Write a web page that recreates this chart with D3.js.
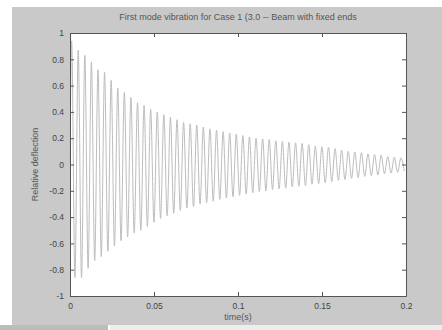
<!DOCTYPE html>
<html>
<head>
<meta charset="utf-8">
<script src="https://cdn.jsdelivr.net/npm/d3@7"></script>
<style>
  body { margin: 0; background: #fff; }
  svg text { font-family: "Liberation Sans", Arial, sans-serif; }
</style>
</head>
<body>
<svg id="chart" width="442" height="330"></svg>
<script>
// title and axis labels
const titleText = "First mode vibration for Case 1 (3.0 -- Beam with fixed ends";
const xLabel = "time(s)";
const yLabel = "Relative deflection";

// tick values
const xTicks = [0, 0.05, 0.1, 0.15, 0.2];
const yTicks = [-1, -0.8, -0.6, -0.4, -0.2, 0, 0.2, 0.4, 0.6, 0.8, 1];

// peaks of the oscillation (one per cycle)
const posPeaks = [0.94, 0.87, 0.83, 0.78, 0.72, 0.70, 0.64, 0.58, 0.55, 0.51,
  0.47, 0.45, 0.42, 0.40, 0.38, 0.36, 0.34, 0.32, 0.31, 0.30,
  0.285, 0.27, 0.26, 0.25, 0.24, 0.23, 0.22, 0.21, 0.20, 0.195,
  0.19, 0.18, 0.175, 0.17, 0.165, 0.16, 0.15, 0.14, 0.135, 0.13,
  0.12, 0.11, 0.10, 0.095, 0.09, 0.08, 0.075, 0.07, 0.06, 0.055, 0.05];
const negPeaks = [-0.86, -0.86, -0.79, -0.73, -0.70, -0.66, -0.62, -0.58, -0.55, -0.52,
  -0.50, -0.47, -0.44, -0.41, -0.39, -0.37, -0.35, -0.33, -0.32, -0.30,
  -0.29, -0.28, -0.265, -0.255, -0.245, -0.235, -0.225, -0.215, -0.205, -0.20,
  -0.19, -0.185, -0.18, -0.17, -0.165, -0.16, -0.15, -0.145, -0.14, -0.13,
  -0.12, -0.115, -0.105, -0.10, -0.09, -0.085, -0.08, -0.07, -0.065, -0.06, -0.05];
const halfPeriod = 0.00196; // time between a peak and the next trough

const svg = d3.select("#chart");

// figure background (grey window)
svg.append("rect").attr("x", 12).attr("y", 7).attr("width", 430).attr("height", 318).attr("fill", "#c9c9c9");
// bits of the screenshot at the bottom
svg.append("rect").attr("x", 0).attr("y", 325).attr("width", 108).attr("height", 5).attr("fill", "#bcbcbc");
svg.append("rect").attr("x", 110).attr("y", 325).attr("width", 332).attr("height", 5).attr("fill", "#ededed");

const plot = { left: 70, top: 33, right: 406, bottom: 296 };

const x = d3.scaleLinear().domain([0, 0.2]).range([plot.left, plot.right]);
const y = d3.scaleLinear().domain([-1, 1]).range([plot.bottom, plot.top]);

svg.append("rect")
  .attr("x", plot.left).attr("y", plot.top)
  .attr("width", plot.right - plot.left).attr("height", plot.bottom - plot.top)
  .attr("fill", "#fff");

// build the signal from the peaks
const signal = [{ t: 0, v: 0 }];
const n = Math.min(posPeaks.length, negPeaks.length);
for (let i = 0; i < n; i++) {
  signal.push({ t: (2 * i + 0.5) * halfPeriod, v: posPeaks[i] });
  signal.push({ t: (2 * i + 1.5) * halfPeriod, v: negPeaks[i] });
}

const line = d3.line()
  .x(d => x(d.t))
  .y(d => y(d.v))
  .curve(d3.curveMonotoneX);

svg.append("path")
  .datum(signal.filter(d => d.t <= 0.2))
  .attr("d", line)
  .attr("fill", "none")
  .attr("stroke", "#bdbdbd")
  .attr("stroke-width", 1);

// axes, MATLAB-ish box with inward ticks
const axisColor = "#555";
const tick = 4;
const fmt = d => String(d);

const xb = svg.append("g").attr("transform", `translate(0,${plot.bottom})`)
  .call(d3.axisBottom(x).tickValues(xTicks).tickSizeInner(-tick).tickSizeOuter(0).tickPadding(7).tickFormat(fmt));
const xt = svg.append("g").attr("transform", `translate(0,${plot.top})`)
  .call(d3.axisTop(x).tickValues(xTicks).tickSizeInner(-tick).tickSizeOuter(0).tickFormat(""));
const yl = svg.append("g").attr("transform", `translate(${plot.left},0)`)
  .call(d3.axisLeft(y).tickValues(yTicks).tickSizeInner(-tick).tickSizeOuter(0).tickPadding(6).tickFormat(fmt));
const yr = svg.append("g").attr("transform", `translate(${plot.right},0)`)
  .call(d3.axisRight(y).tickValues(yTicks).tickSizeInner(-tick).tickSizeOuter(0).tickFormat(""));

[xb, xt, yl, yr].forEach(g => {
  g.select(".domain").attr("stroke", axisColor);
  g.selectAll(".tick line").attr("stroke", axisColor);
  g.selectAll(".tick text").attr("fill", "#444").attr("font-size", 8.5);
});

svg.append("text")
  .attr("x", (plot.left + plot.right) / 2).attr("y", 20)
  .attr("text-anchor", "middle").attr("font-size", 9).attr("fill", "#555")
  .text(titleText);

svg.append("text")
  .attr("x", (plot.left + plot.right) / 2).attr("y", 320)
  .attr("text-anchor", "middle").attr("font-size", 9).attr("fill", "#555")
  .text(xLabel);

svg.append("text")
  .attr("transform", `translate(38,${(plot.top + plot.bottom) / 2}) rotate(-90)`)
  .attr("text-anchor", "middle").attr("font-size", 9).attr("fill", "#555")
  .text(yLabel);
</script>
</body>
</html>
